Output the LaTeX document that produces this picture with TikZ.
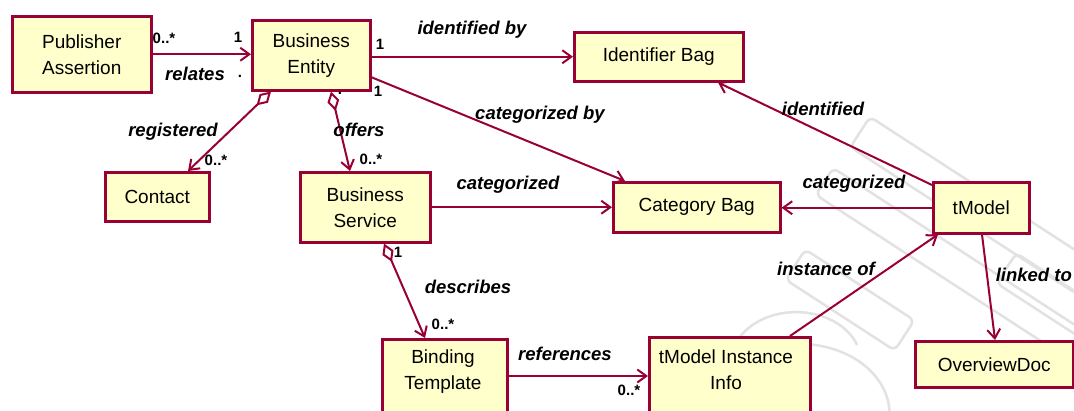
\documentclass[tikz,border=0pt]{standalone}
\usepackage{fontspec}
\setmainfont{Liberation Sans}
\usetikzlibrary{arrows.meta}
\definecolor{umlred}{RGB}{153,0,51}
\definecolor{umlfill}{RGB}{255,255,204}
\definecolor{wmark}{RGB}{226,226,226}

\begin{document}
\begin{tikzpicture}[x=1pt,y=-1pt,
  box/.style={draw=umlred, fill=umlfill, line width=2.5pt, inner sep=0pt,
              anchor=north west, align=center, font=\fontsize{19}{26}\selectfont},
  boxtext/.style={inner sep=0pt, align=center, font=\fontsize{19}{26}\selectfont},
  link/.style={draw=umlred, line width=2pt},
  nav/.style={link, -{Straight Barb[length=9pt,width=13pt]}},
  agg/.style={link, {Diamond[open,length=20pt,width=12pt]}-{Straight Barb[length=9pt,width=13pt]}},
  role/.style={inner sep=0pt, font=\fontsize{18.5}{18.5}\selectfont\bfseries\itshape},
  mult/.style={inner sep=0pt, font=\fontsize{15}{15}\selectfont\bfseries},
  wm/.style={draw=wmark, line width=2.5pt, rounded corners=6pt},
]
\useasboundingbox (0,0) rectangle (1074,410);
\clip (0,0) rectangle (1074,410);
\fill[white] (0,0) rectangle (1074,410);

% faint emblem in the background
\draw[wm, rotate around={-33:(965,200)}] (840,182) rectangle (1110,218);
\draw[wm, rotate around={-33:(955,265)}] (800,250) rectangle (1110,282);
\draw[wm, rotate around={-33:(850,300)}] (785,282) rectangle (915,318);
\draw[wm, rotate around={-33:(1040,290)}] (1000,272) rectangle (1100,308);
\draw[wm] (735,345) arc[start angle=160, end angle=20, x radius=65, y radius=-50];
\draw[wm] (715,390) arc[start angle=160, end angle=0, x radius=90, y radius=-70];

% classes
\node[box, minimum width=139pt, minimum height=76pt] (pa) at (11,15) {Publisher\\Assertion};
\node[box, minimum width=118pt, minimum height=70pt] (be) at (251,19) {Business\\Entity};
\node[box, minimum width=169pt, minimum height=49pt] (ib) at (573,31) {Identifier Bag};
\node[box, minimum width=104pt, minimum height=49pt] (ct) at (104,171) {Contact};
\node[box, minimum width=130pt, minimum height=70pt] (bs) at (299,171) {Business\\Service};
\node[box, minimum width=167pt, minimum height=50pt] (cb) at (612,181) {Category Bag};
\node[box, minimum width=96pt, minimum height=51pt] (tm) at (932,181) {tModel};
\node[box, minimum width=125pt, minimum height=90pt] (bt) at (381,338) {};
\node[boxtext] (btl) at (443,372) {Binding\\Template};
\node[box, minimum width=161pt, minimum height=90pt] (ti) at (648,336) {};
\node[boxtext] (til) at (726,370) {tModel Instance\\Info};
\node[box, minimum width=158pt, minimum height=46pt] (od) at (914,340) {OverviewDoc};

% associations
\draw[nav] (pa.east) -- (pa.east -| be.west);
\draw[nav] (ib.west -| be.east) -- (ib.west);
\draw[nav] ([yshift=-22pt]be.east) -- ([xshift=13pt]cb.north west);
\draw[agg] ([xshift=20pt]be.south west) -- ([xshift=84pt]ct.north west);
\draw[agg] ([xshift=80pt]be.south west) -- ([xshift=51pt]bs.north west);
\draw[nav] (bs.east) -- (bs.east -| cb.west);
\draw[nav] (tm.west) -- (tm.west -| cb.east);
\draw[nav] ([yshift=-4pt]tm.north west) -- ([xshift=145pt]ib.south west);
\draw[agg] ([xshift=85pt]bs.south west) -- ([xshift=44pt]bt.north west);
\draw[nav] ([yshift=-38pt]bt.north east) -- ([yshift=-38pt]bt.north east -| ti.west);
\draw[nav] ([xshift=142pt]ti.north west) -- ([xshift=6pt]tm.south west);
\draw[nav] ([xshift=50pt]tm.south west) -- ([xshift=81pt]od.north west);

% role names
\node[role] (r1) at (195,74) {relates};
\node[role] (r2) at (472,30) {identified by};
\node[role] (r3) at (540,115) {categorized by};
\node[role] (r4) at (173,132) {registered};
\node[role] (r5) at (359,130) {offers};
\node[role] (r6) at (508,185) {categorized};
\node[role] (r7) at (854,184) {categorized};
\node[role] (r8) at (823,109) {identified};
\node[role] (r9) at (468,287) {describes};
\node[role] (r10) at (565,354) {references};
\node[role] (r11) at (826,269) {instance of};
\node[role, anchor=east] (r12) at (1072,275) {linked to};

% multiplicities
\node[mult] (m1) at (164,38) {0..*};
\node[mult] (m2) at (238,37) {1};
\node[mult] (m3) at (240,76) {.};
\node[mult] (m4) at (380,44) {1};
\node[mult] (m5) at (378,91) {1};
\node[mult] (m6) at (216,160) {0..*};
\node[mult] (m7) at (371,159) {0..*};
\node[mult] (m8) at (340,93) {.};
\node[mult] (m9) at (398,252) {1};
\node[mult] (m10) at (443,324) {0..*};
\node[mult] (m11) at (629,390) {0..*};
\end{tikzpicture}
\end{document}
